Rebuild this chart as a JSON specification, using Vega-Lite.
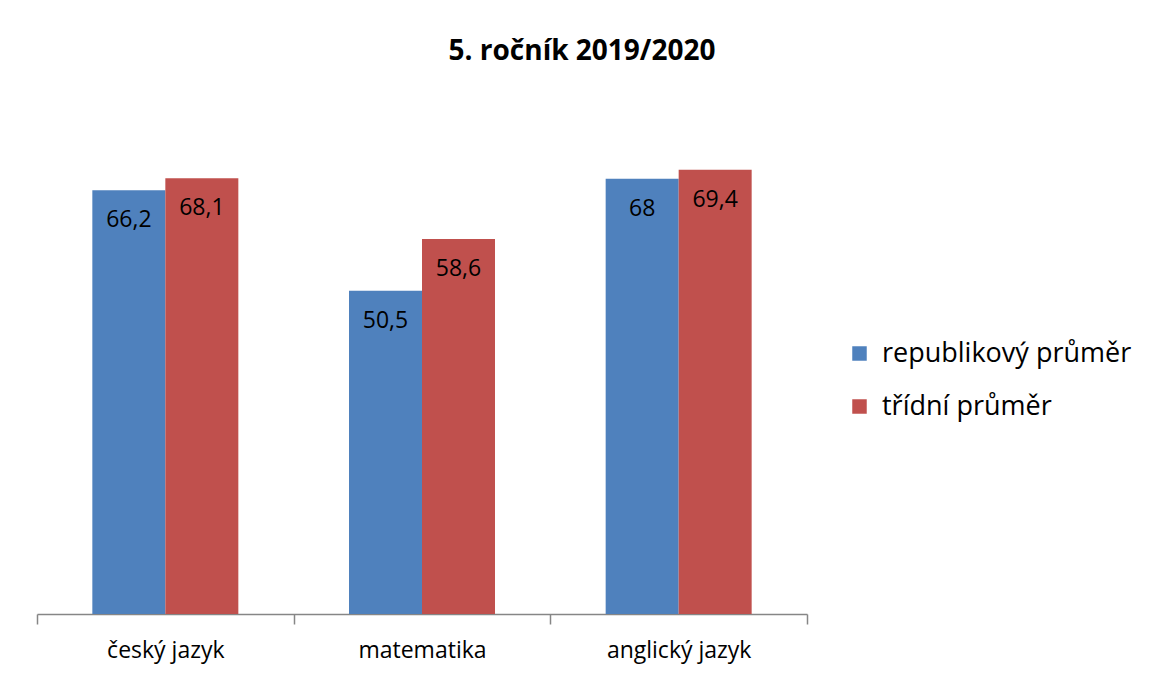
{
  "$schema": "https://vega.github.io/schema/vega-lite/v6.json",
  "width": 770,
  "height": 512,
  "autosize": {"type": "none"},
  "padding": {"left": 37, "top": 102, "right": 342, "bottom": 60},
  "background": "white",
  "config": {
    "view": {"stroke": null},
    "font": "Open Sans",
    "locale": {"number": {"decimal": ",", "thousands": " ", "grouping": [3], "currency": ["", " Kč"]}}
  },
  "title": {
    "text": "5. ročník 2019/2020",
    "font": "Open Sans",
    "fontSize": 28,
    "fontWeight": "bold",
    "color": "black",
    "anchor": "middle",
    "dx": 160,
    "offset": 36
  },
  "data": {
    "values": [
      {"predmet": "český jazyk", "serie": "republikový průměr", "hodnota": 66.2},
      {"predmet": "český jazyk", "serie": "třídní průměr", "hodnota": 68.1},
      {"predmet": "matematika", "serie": "republikový průměr", "hodnota": 50.5},
      {"predmet": "matematika", "serie": "třídní průměr", "hodnota": 58.6},
      {"predmet": "anglický jazyk", "serie": "republikový průměr", "hodnota": 68},
      {"predmet": "anglický jazyk", "serie": "třídní průměr", "hodnota": 69.4}
    ]
  },
  "encoding": {
    "x": {
      "field": "predmet",
      "type": "nominal",
      "sort": ["český jazyk", "matematika", "anglický jazyk"],
      "scale": {"paddingInner": 0, "paddingOuter": 0},
      "axis": {
        "title": null,
        "labelAngle": 0,
        "labelFontSize": 23,
        "labelColor": "black",
        "labelFont": "Open Sans",
        "labelPadding": 15,
        "tickSize": 10,
        "tickBand": "extent",
        "tickColor": "#868686",
        "domainColor": "#868686",
        "tickWidth": 1.5,
        "domainWidth": 1.5
      }
    },
    "xOffset": {
      "field": "serie",
      "type": "nominal",
      "scale": {"paddingInner": 0, "paddingOuter": 0.758}
    },
    "y": {
      "field": "hodnota",
      "type": "quantitative",
      "scale": {"domain": [0, 80]},
      "axis": null
    }
  },
  "layer": [
    {
      "mark": {"type": "bar"},
      "encoding": {
        "color": {
          "field": "serie",
          "type": "nominal",
          "scale": {"domain": ["republikový průměr", "třídní průměr"], "range": ["#4F81BD", "#C0504D"]},
          "legend": {
            "title": null,
            "orient": "none",
            "legendX": 809,
            "legendY": 238,
            "symbolType": "square",
            "symbolSize": 210,
            "symbolStrokeWidth": 0,
            "labelFontSize": 27,
            "labelFont": "Open Sans",
            "labelColor": "black",
            "rowPadding": 25,
            "labelOffset": 9,
            "labelLimit": 400
          }
        }
      }
    },
    {
      "mark": {"type": "text", "baseline": "top", "dy": 19, "fontSize": 23, "color": "black", "font": "Open Sans"},
      "encoding": {
        "text": {"field": "hodnota", "type": "quantitative", "format": ".1~f"}
      }
    }
  ]
}
